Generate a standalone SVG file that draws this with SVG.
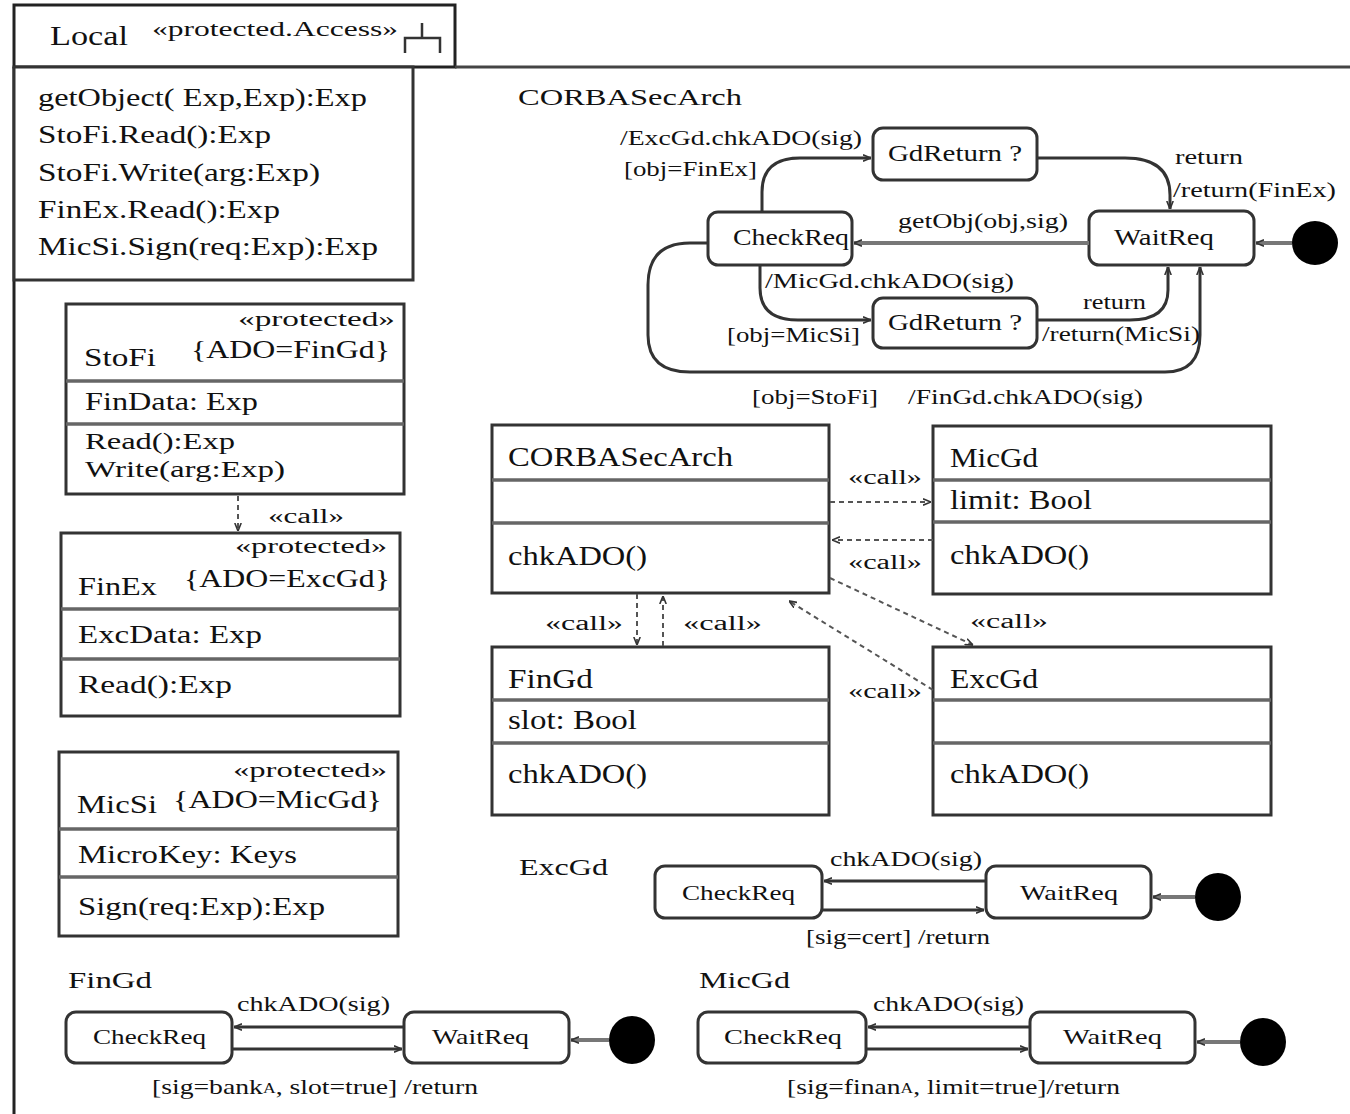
<svg xmlns="http://www.w3.org/2000/svg" width="1350" height="1114" viewBox="0 0 1350 1114">
<style>
.t{font-family:"Liberation Serif","Times New Roman",serif;fill:#111}
.s20{font-size:22px}.s19{font-size:20px}.s22{font-size:26px}.s24{font-size:26px}.s25{font-size:28px}.st24{font-size:24px}.s23{font-size:23px}
.box{fill:#fff;stroke:#333;stroke-width:3}
.sep{stroke:#666;stroke-width:3.5}
.st{fill:#fff;stroke:#333;stroke-width:3}
.tr{fill:none;stroke:#333;stroke-width:3}
.trg{fill:none;stroke:#777;stroke-width:4}
.dep{fill:none;stroke:#555;stroke-width:2;stroke-dasharray:5 4}
</style>
<defs>
<marker id="a" viewBox="0 0 10 10" refX="10" refY="5" markerWidth="8" markerHeight="8" markerUnits="userSpaceOnUse" orient="auto"><path d="M0,1 L10,5 L0,9" fill="none" stroke="#333" stroke-width="2"/></marker>
</defs>
<rect width="1350" height="1114" fill="#fff"/>

<g id="frame">
<rect x="14" y="5" width="441" height="62" fill="none" stroke="#222" stroke-width="3"/>
<line x1="455" y1="67" x2="1350" y2="67" stroke="#444" stroke-width="3"/>
<line x1="14" y1="67" x2="14" y2="1114" stroke="#222" stroke-width="3"/>
<text class="t" x="50" y="45" font-size="27" textLength="78" lengthAdjust="spacingAndGlyphs">Local</text>
<text class="t" x="152" y="36" font-size="20" textLength="246" lengthAdjust="spacingAndGlyphs">«protected.Access»</text>
<path d="M405,53 V38 H440 V53 M422,38 V23" fill="none" stroke="#333" stroke-width="2.5"/>
</g>

<g id="Local-ops">
<rect x="14" y="67" width="399" height="213" class="box"/>
<text class="t s24" x="38" y="106" textLength="329" lengthAdjust="spacingAndGlyphs">getObject( Exp,Exp):Exp</text>
<text class="t s24" x="38" y="143" textLength="233" lengthAdjust="spacingAndGlyphs">StoFi.Read():Exp</text>
<text class="t s24" x="38" y="181" textLength="282" lengthAdjust="spacingAndGlyphs">StoFi.Write(arg:Exp)</text>
<text class="t s24" x="38" y="218" textLength="242" lengthAdjust="spacingAndGlyphs">FinEx.Read():Exp</text>
<text class="t s24" x="38" y="255" textLength="340" lengthAdjust="spacingAndGlyphs">MicSi.Sign(req:Exp):Exp</text>
</g>

<g id="StoFi">
<rect x="66" y="304" width="338" height="190" class="box"/>
<line x1="66" y1="381" x2="404" y2="381" class="sep"/>
<line x1="66" y1="424" x2="404" y2="424" class="sep"/>
<text class="t s19" x="238" y="326" textLength="157" lengthAdjust="spacingAndGlyphs">«protected»</text>
<text class="t s22" x="191" y="358" textLength="199" lengthAdjust="spacingAndGlyphs">{ADO=FinGd}</text>
<text class="t s22" x="84" y="366" textLength="72" lengthAdjust="spacingAndGlyphs">StoFi</text>
<text class="t s22" x="85" y="410" textLength="173" lengthAdjust="spacingAndGlyphs">FinData: Exp</text>
<text class="t s23" x="85" y="449" textLength="150" lengthAdjust="spacingAndGlyphs">Read():Exp</text>
<text class="t s23" x="85" y="477" textLength="200" lengthAdjust="spacingAndGlyphs">Write(arg:Exp)</text>
</g>

<g id="FinEx">
<rect x="61" y="533" width="339" height="183" class="box"/>
<line x1="61" y1="609" x2="400" y2="609" class="sep"/>
<line x1="61" y1="659" x2="400" y2="659" class="sep"/>
<text class="t s19" x="235" y="553" textLength="152" lengthAdjust="spacingAndGlyphs">«protected»</text>
<text class="t s22" x="184" y="587" textLength="206" lengthAdjust="spacingAndGlyphs">{ADO=ExcGd}</text>
<text class="t s22" x="78" y="595" textLength="79" lengthAdjust="spacingAndGlyphs">FinEx</text>
<text class="t s22" x="78" y="643" textLength="184" lengthAdjust="spacingAndGlyphs">ExcData: Exp</text>
<text class="t s22" x="78" y="693" textLength="154" lengthAdjust="spacingAndGlyphs">Read():Exp</text>
</g>

<g id="MicSi">
<rect x="59" y="752" width="339" height="184" class="box"/>
<line x1="59" y1="829" x2="398" y2="829" class="sep"/>
<line x1="59" y1="877" x2="398" y2="877" class="sep"/>
<text class="t s19" x="233" y="777" textLength="154" lengthAdjust="spacingAndGlyphs">«protected»</text>
<text class="t s22" x="173" y="808" textLength="209" lengthAdjust="spacingAndGlyphs">{ADO=MicGd}</text>
<text class="t s22" x="77" y="813" textLength="80" lengthAdjust="spacingAndGlyphs">MicSi</text>
<text class="t s22" x="78" y="863" textLength="219" lengthAdjust="spacingAndGlyphs">MicroKey: Keys</text>
<text class="t s22" x="78" y="915" textLength="247" lengthAdjust="spacingAndGlyphs">Sign(req:Exp):Exp</text>
</g>

<g id="CORBASecArch-sm-title">
<text class="t st24" x="518" y="105" textLength="224" lengthAdjust="spacingAndGlyphs">CORBASecArch</text>
</g>

<g id="sm-CheckReq">
<rect x="708" y="212" width="144" height="53" rx="10" class="st"/>
<text class="t st24" x="733" y="245" textLength="116" lengthAdjust="spacingAndGlyphs">CheckReq</text>
</g>
<g id="sm-WaitReq">
<rect x="1089" y="211" width="165" height="54" rx="10" class="st"/>
<text class="t st24" x="1114" y="245" textLength="100" lengthAdjust="spacingAndGlyphs">WaitReq</text>
</g>
<g id="sm-GdReturn1">
<rect x="873" y="128" width="164" height="52" rx="10" class="st"/>
<text class="t st24" x="888" y="161" textLength="134" lengthAdjust="spacingAndGlyphs">GdReturn ?</text>
</g>
<g id="sm-GdReturn2">
<rect x="873" y="298" width="164" height="50" rx="10" class="st"/>
<text class="t st24" x="888" y="330" textLength="134" lengthAdjust="spacingAndGlyphs">GdReturn ?</text>
</g>
<g id="sm-init">
<ellipse cx="1315" cy="243" rx="23" ry="22" fill="#000"/>
</g>

<g id="CORBASecArch">
<rect x="492" y="425" width="337" height="168" class="box"/>
<line x1="492" y1="480" x2="829" y2="480" class="sep"/>
<line x1="492" y1="523" x2="829" y2="523" class="sep"/>
<text class="t s25" x="508" y="466" textLength="225" lengthAdjust="spacingAndGlyphs">CORBASecArch</text>
<text class="t s25" x="508" y="565" textLength="139" lengthAdjust="spacingAndGlyphs">chkADO()</text>
</g>
<g id="MicGd">
<rect x="933" y="426" width="338" height="168" class="box"/>
<line x1="933" y1="480" x2="1271" y2="480" class="sep"/>
<line x1="933" y1="522" x2="1271" y2="522" class="sep"/>
<text class="t s25" x="950" y="467" textLength="88" lengthAdjust="spacingAndGlyphs">MicGd</text>
<text class="t s25" x="950" y="509" textLength="142" lengthAdjust="spacingAndGlyphs">limit: Bool</text>
<text class="t s25" x="950" y="564" textLength="139" lengthAdjust="spacingAndGlyphs">chkADO()</text>
</g>
<g id="FinGd">
<rect x="492" y="647" width="337" height="168" class="box"/>
<line x1="492" y1="700" x2="829" y2="700" class="sep"/>
<line x1="492" y1="743" x2="829" y2="743" class="sep"/>
<text class="t s25" x="508" y="688" textLength="85" lengthAdjust="spacingAndGlyphs">FinGd</text>
<text class="t s25" x="508" y="729" textLength="129" lengthAdjust="spacingAndGlyphs">slot: Bool</text>
<text class="t s25" x="508" y="783" textLength="139" lengthAdjust="spacingAndGlyphs">chkADO()</text>
</g>
<g id="ExcGd">
<rect x="933" y="647" width="338" height="168" class="box"/>
<line x1="933" y1="700" x2="1271" y2="700" class="sep"/>
<line x1="933" y1="743" x2="1271" y2="743" class="sep"/>
<text class="t s25" x="950" y="688" textLength="88" lengthAdjust="spacingAndGlyphs">ExcGd</text>
<text class="t s25" x="950" y="783" textLength="139" lengthAdjust="spacingAndGlyphs">chkADO()</text>
</g>

<g id="ExcGd-sm">
<text class="t st24" x="519" y="875" textLength="89" lengthAdjust="spacingAndGlyphs">ExcGd</text>
<rect x="655" y="866" width="167" height="52" rx="10" class="st"/>
<text class="t s20" x="682" y="900" textLength="113" lengthAdjust="spacingAndGlyphs">CheckReq</text>
<rect x="986" y="866" width="165" height="52" rx="10" class="st"/>
<text class="t s20" x="1020" y="900" textLength="98" lengthAdjust="spacingAndGlyphs">WaitReq</text>
<ellipse cx="1218" cy="897" rx="23" ry="24" fill="#000"/>
</g>
<g id="FinGd-sm">
<text class="t st24" x="68" y="988" textLength="84" lengthAdjust="spacingAndGlyphs">FinGd</text>
<rect x="66" y="1012" width="166" height="51" rx="10" class="st"/>
<text class="t s20" x="93" y="1044" textLength="113" lengthAdjust="spacingAndGlyphs">CheckReq</text>
<rect x="404" y="1012" width="165" height="51" rx="10" class="st"/>
<text class="t s20" x="432" y="1044" textLength="97" lengthAdjust="spacingAndGlyphs">WaitReq</text>
<ellipse cx="632" cy="1040" rx="23" ry="24" fill="#000"/>
</g>
<g id="MicGd-sm">
<text class="t st24" x="699" y="988" textLength="91" lengthAdjust="spacingAndGlyphs">MicGd</text>
<rect x="698" y="1012" width="168" height="51" rx="10" class="st"/>
<text class="t s20" x="724" y="1044" textLength="118" lengthAdjust="spacingAndGlyphs">CheckReq</text>
<rect x="1030" y="1012" width="165" height="51" rx="10" class="st"/>
<text class="t s20" x="1063" y="1044" textLength="99" lengthAdjust="spacingAndGlyphs">WaitReq</text>
<ellipse cx="1263" cy="1042" rx="23" ry="24" fill="#000"/>
</g>

<g id="connectors">
<path d="M762,212 V192 Q762,158 800,158 H871" class="tr" marker-end="url(#a)"/>
<path d="M1037,158 H1125 Q1170,158 1170,195 V209" class="tr" marker-end="url(#a)"/>
<path d="M760,265 V288 Q760,320 798,320 H871" class="tr" marker-end="url(#a)"/>
<path d="M1037,320 H1130 Q1168,320 1168,290 V267" class="tr" marker-end="url(#a)"/>
<path d="M708,243 H690 Q648,243 648,285 V335 Q648,372 690,372 H1165 Q1200,372 1200,335 V267" class="tr" marker-end="url(#a)"/>
<path d="M1089,243 H854" class="trg" marker-end="url(#a)"/>
<path d="M1292,243 H1256" class="trg" marker-end="url(#a)"/>
<text class="t s20" x="620" y="145" textLength="242" lengthAdjust="spacingAndGlyphs">/ExcGd.chkADO(sig)</text>
<text class="t s20" x="624" y="176" textLength="133" lengthAdjust="spacingAndGlyphs">[obj=FinEx]</text>
<text class="t s20" x="898" y="228" textLength="170" lengthAdjust="spacingAndGlyphs">getObj(obj,sig)</text>
<text class="t s20" x="1175" y="164" textLength="68" lengthAdjust="spacingAndGlyphs">return</text>
<text class="t s20" x="1173" y="197" textLength="163" lengthAdjust="spacingAndGlyphs">/return(FinEx)</text>
<text class="t s20" x="765" y="288" textLength="249" lengthAdjust="spacingAndGlyphs">/MicGd.chkADO(sig)</text>
<text class="t s20" x="1083" y="309" textLength="63" lengthAdjust="spacingAndGlyphs">return</text>
<text class="t s20" x="727" y="342" textLength="133" lengthAdjust="spacingAndGlyphs">[obj=MicSi]</text>
<text class="t s20" x="1042" y="341" textLength="158" lengthAdjust="spacingAndGlyphs">/return(MicSi)</text>
<text class="t s20" x="752" y="404" textLength="126" lengthAdjust="spacingAndGlyphs">[obj=StoFi]</text>
<text class="t s20" x="908" y="404" textLength="235" lengthAdjust="spacingAndGlyphs">/FinGd.chkADO(sig)</text>

<path d="M238,496 V531" class="dep" marker-end="url(#a)"/>
<text class="t s19" x="268" y="523" textLength="76" lengthAdjust="spacingAndGlyphs">«call»</text>

<path d="M830,502 H931" class="dep" marker-end="url(#a)"/>
<text class="t s19" x="848" y="484" textLength="74" lengthAdjust="spacingAndGlyphs">«call»</text>
<path d="M933,540 H832" class="dep" marker-end="url(#a)"/>
<text class="t s19" x="848" y="569" textLength="74" lengthAdjust="spacingAndGlyphs">«call»</text>
<path d="M830,578 L973,645" class="dep" marker-end="url(#a)"/>
<text class="t s19" x="970" y="628" textLength="78" lengthAdjust="spacingAndGlyphs">«call»</text>
<path d="M933,690 L789,601" class="dep" marker-end="url(#a)"/>
<text class="t s19" x="848" y="698" textLength="74" lengthAdjust="spacingAndGlyphs">«call»</text>
<path d="M637,594 V645" class="dep" marker-end="url(#a)"/>
<text class="t s19" x="545" y="630" textLength="78" lengthAdjust="spacingAndGlyphs">«call»</text>
<path d="M663,646 V596" class="dep" marker-end="url(#a)"/>
<text class="t s19" x="683" y="630" textLength="79" lengthAdjust="spacingAndGlyphs">«call»</text>

<path d="M986,881 H824" class="tr" marker-end="url(#a)"/>
<path d="M822,910 H984" class="tr" marker-end="url(#a)"/>
<path d="M1195,897 H1153" class="trg" marker-end="url(#a)"/>
<text class="t s20" x="830" y="866" textLength="152" lengthAdjust="spacingAndGlyphs">chkADO(sig)</text>
<text class="t s20" x="806" y="944" textLength="184" lengthAdjust="spacingAndGlyphs">[sig=cert] /return</text>

<path d="M404,1027 H234" class="tr" marker-end="url(#a)"/>
<path d="M232,1049 H402" class="tr" marker-end="url(#a)"/>
<path d="M609,1040 H571" class="trg" marker-end="url(#a)"/>
<text class="t s20" x="237" y="1011" textLength="153" lengthAdjust="spacingAndGlyphs">chkADO(sig)</text>
<text class="t s20" x="152" y="1094" textLength="326" lengthAdjust="spacingAndGlyphs">[sig=bank<tspan font-size="14" dy="-1">A</tspan><tspan dy="1">, slot=true] /return</tspan></text>

<path d="M1030,1027 H868" class="tr" marker-end="url(#a)"/>
<path d="M866,1049 H1028" class="tr" marker-end="url(#a)"/>
<path d="M1240,1042 H1197" class="trg" marker-end="url(#a)"/>
<text class="t s20" x="873" y="1011" textLength="151" lengthAdjust="spacingAndGlyphs">chkADO(sig)</text>
<text class="t s20" x="787" y="1094" textLength="333" lengthAdjust="spacingAndGlyphs">[sig=finan<tspan font-size="14" dy="-1">A</tspan><tspan dy="1">, limit=true]/return</tspan></text>
</g>
</svg>
